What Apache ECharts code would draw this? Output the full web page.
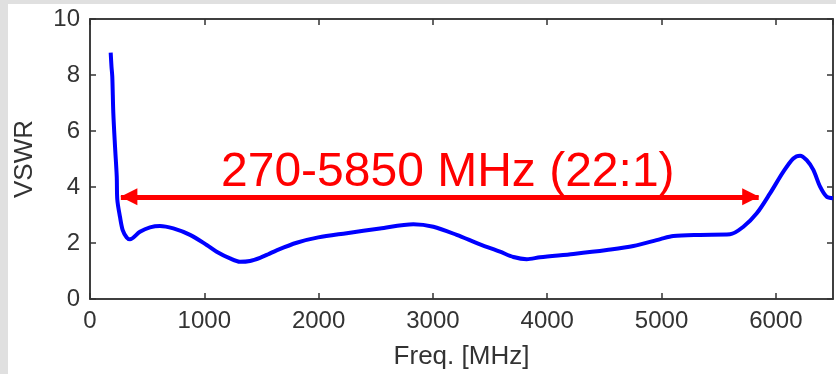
<!DOCTYPE html>
<html>
<head>
<meta charset="utf-8">
<script src="https://cdn.jsdelivr.net/npm/echarts@6/dist/echarts.min.js"></script>
<style>
html,body{margin:0;padding:0;background:#e0e0e0;width:836px;height:374px;overflow:hidden;}
#chart{position:absolute;left:8px;top:4px;width:828px;height:370px;background:#ffffff;}
</style>
</head>
<body>
<div id="chart"></div>
<script>
// Frequency (MHz) and VSWR values
const freq = [181, 188, 195, 204, 219, 234, 239, 262, 286, 321, 350, 437, 525, 612, 729, 875, 1021, 1108, 1225, 1312, 1400, 1487, 1560, 1633, 1808, 1997, 2246, 2537, 2829, 3004, 3208, 3412, 3587, 3704, 3821, 3937, 4229, 4521, 4754, 4990, 5103, 5337, 5599, 5716, 5833, 5949, 6066, 6153, 6212, 6270, 6328, 6387, 6445, 6500];
const vswr = [8.8, 8.3, 7.94, 6.64, 5.44, 4.37, 3.54, 2.94, 2.46, 2.2, 2.13, 2.4, 2.56, 2.61, 2.52, 2.29, 1.93, 1.69, 1.45, 1.33, 1.36, 1.47, 1.6, 1.74, 2.01, 2.2, 2.35, 2.52, 2.67, 2.58, 2.29, 1.95, 1.69, 1.5, 1.42, 1.49, 1.61, 1.75, 1.89, 2.14, 2.25, 2.29, 2.31, 2.58, 3.06, 3.77, 4.55, 5.02, 5.12, 4.96, 4.61, 4.01, 3.65, 3.6];
// Bandwidth annotation
const bandStart = 270;
const bandEnd = 5850;
const bandLevel = 3.65;
const bandText = '270-5850 MHz (22:1)';
// Axis settings
const xTicks = [0, 1000, 2000, 3000, 4000, 5000, 6000];
const yTicks = [0, 2, 4, 6, 8, 10];

const chart = echarts.init(document.getElementById('chart'), null, {renderer: 'canvas'});
const axisColor = '#333333';
const font = 'Liberation Sans, Arial, sans-serif';
const points = freq.map((f, i) => [f, vswr[i]]);
const line = {show: true, onZero: false, lineStyle: {color: axisColor, width: 1.5}};
const tick = {show: true, inside: true, length: 6, lineStyle: {color: axisColor, width: 1.5}};

chart.setOption({
  animation: false,
  backgroundColor: '#ffffff',
  grid: {left: 82, right: 3, top: 15, bottom: 75, outerBoundsMode: 'none', containLabel: false,
    show: true, borderColor: axisColor, borderWidth: 1.5, backgroundColor: '#ffffff'},
  xAxis: [{
    type: 'value', min: 0, max: 6500, interval: 1000,
    name: 'Freq. [MHz]', nameLocation: 'middle', nameGap: 45,
    nameTextStyle: {fontFamily: font, fontSize: 26, color: axisColor},
    axisLine: line, axisTick: tick,
    axisLabel: {show: true, margin: 10, fontFamily: font, fontSize: 24, color: axisColor, showMaxLabel: false,
      formatter: v => xTicks.indexOf(v) >= 0 ? String(v) : ''},
    splitLine: {show: false}
  }, {
    type: 'value', min: 0, max: 6500, interval: 1000, position: 'top',
    axisLine: line, axisTick: tick,
    axisLabel: {show: false}, splitLine: {show: false}
  }],
  yAxis: [{
    type: 'value', min: 0, max: 10, interval: 2,
    name: 'VSWR', nameLocation: 'middle', nameGap: 52,
    nameTextStyle: {fontFamily: font, fontSize: 26, color: axisColor},
    axisLine: line, axisTick: tick,
    axisLabel: {show: true, margin: 10, fontFamily: font, fontSize: 24, color: axisColor,
      formatter: v => yTicks.indexOf(v) >= 0 ? String(v) : ''},
    splitLine: {show: false}
  }, {
    type: 'value', min: 0, max: 10, interval: 2, position: 'right',
    axisLine: line, axisTick: tick,
    axisLabel: {show: false}, splitLine: {show: false}
  }],
  series: [{
    type: 'line',
    data: points,
    showSymbol: false,
    smooth: 0.3,
    lineStyle: {color: '#0000ff', width: 4},
    itemStyle: {color: '#0000ff'},
    markLine: {
      silent: true,
      symbol: ['triangle', 'triangle'],
      symbolSize: [17, 17],
      symbolOffset: [[0, 8], [0, 8]],
      lineStyle: {color: '#ff0000', width: 5, type: 'solid'},
      label: {show: true, position: 'middle', formatter: bandText, fontFamily: font, fontSize: 48, color: '#ff0000', distance: 0, padding: [0, 0, 0, 16]},
      data: [[{coord: [bandStart, bandLevel]}, {coord: [bandEnd, bandLevel]}]]
    }
  }]
});
</script>
</body>
</html>
